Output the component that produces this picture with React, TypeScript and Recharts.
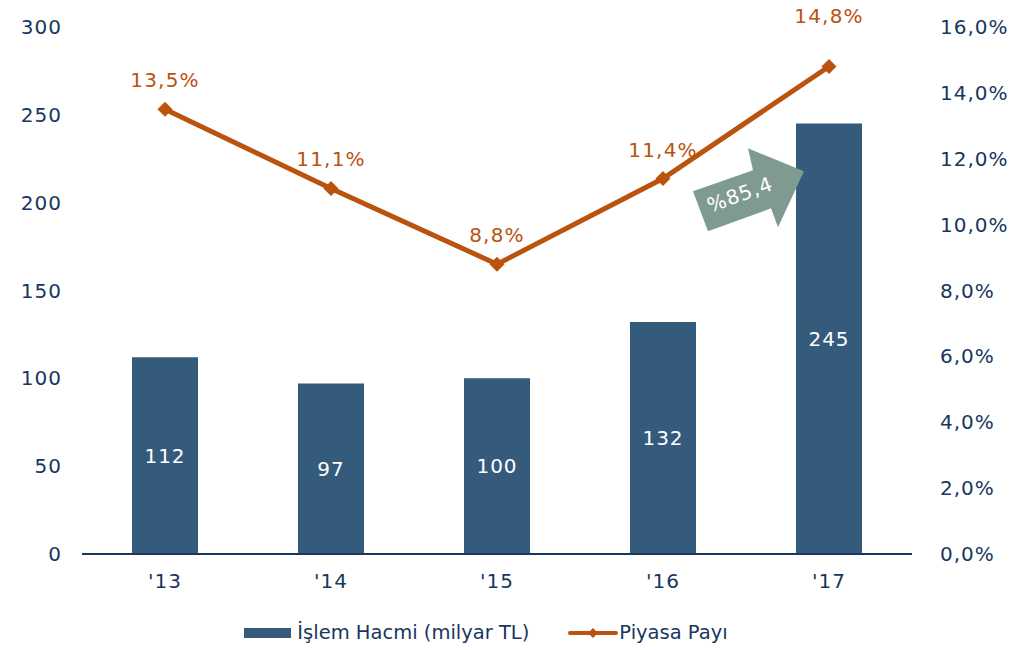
import React from "react";
import {
  Bar,
  ComposedChart,
  LabelList,
  Legend,
  Line,
  ReferenceDot,
  XAxis,
  YAxis,
} from "recharts";

const years = ["'13", "'14", "'15", "'16", "'17"];
const volume = [112, 97, 100, 132, 245];
const share = [13.5, 11.1, 8.8, 11.4, 14.8];
const leftTicks = [0, 50, 100, 150, 200, 250, 300];
const rightTicks = [0, 2, 4, 6, 8, 10, 12, 14, 16];
const growthLabel = "%85,4";

const FONT = "Verdana, 'DejaVu Sans', sans-serif";
const NAVY = "#17375e";
const BAR = "#345b7b";
const ORANGE = "#b9530e";
const ARROW = "#7f9a90";

const data = years.map((y, i) => ({ year: y, volume: volume[i], share: share[i] }));

const fmtPct = (v: number) => v.toFixed(1).replace(".", ",") + "%";

const GrowthArrow = (props: any) => {
  const cx = props.cx - 81;
  const cy = props.cy;
  const pts = [
    [-40, 41],
    [-55, 1],
    [5, -20],
    [0, -42],
    [56, -19],
    [30, 37],
    [23, 18],
  ]
    .map(([x, y]) => `${cx + x},${cy + y}`)
    .join(" ");
  return (
    <g>
      <polygon points={pts} fill={ARROW} />
      <text
        x={cx - 8}
        y={cy + 11}
        transform={`rotate(-20 ${cx - 8} ${cy + 4})`}
        textAnchor="middle"
        fill="#fff"
        fontSize={20}
        letterSpacing={1}
        fontFamily={FONT}
      >
        {growthLabel}
      </text>
    </g>
  );
};

// last label sits a bit higher, as in the source
const ShareLabel = (props: any) => {
  const { x, y, value, index } = props;
  const lift = index === share.length - 1 ? 44 : 22;
  return (
    <text
      x={x}
      y={y - lift}
      textAnchor="middle"
      fill={ORANGE}
      fontSize={20}
      letterSpacing={1.2}
      fontFamily={FONT}
    >
      {fmtPct(Number(value))}
    </text>
  );
};

const renderLegend = () => (
  <div
    style={{
      display: "flex",
      justifyContent: "center",
      alignItems: "center",
      fontFamily: FONT,
      fontSize: 19.5,
      color: NAVY,
      paddingTop: 17,
      paddingRight: 48,
    }}
  >
    <span style={{ display: "inline-block", width: 47, height: 10, background: BAR, marginRight: 6 }} />
    <span>İşlem Hacmi (milyar TL)</span>
    <svg width={50} height={12} style={{ marginLeft: 39, marginRight: 1 }}>
      <line x1={2} y1={6} x2={48} y2={6} stroke={ORANGE} strokeWidth={4} strokeLinecap="round" />
      <polygon points="25,1 30,6 25,11 20,6" fill={ORANGE} />
    </svg>
    <span>Piyasa Payı</span>
  </div>
);

export default function App() {
  const tick = { fill: NAVY, fontSize: 20, fontFamily: FONT, letterSpacing: 1 };
  return (
    <div style={{ position: "absolute", left: 0, top: 0, width: 1020, height: 650, background: "#fff" }}>
      <ComposedChart
        width={1020}
        height={650}
        data={data}
        margin={{ top: 27, right: 0, left: 0, bottom: 0 }}
      >
        <XAxis
          dataKey="year"
          tick={tick}
          tickLine={false}
          axisLine={{ stroke: NAVY, strokeWidth: 2 }}
          height={50}
          tickMargin={14}
        />
        <YAxis
          yAxisId="left"
          domain={[0, 300]}
          ticks={leftTicks}
          tick={tick}
          tickLine={false}
          axisLine={false}
          width={82}
          tickMargin={14}
        />
        <YAxis
          yAxisId="right"
          orientation="right"
          domain={[0, 16]}
          ticks={rightTicks}
          tickFormatter={fmtPct}
          tick={{ ...tick, textAnchor: "start" }}
          tickLine={false}
          axisLine={false}
          width={108}
          tickMargin={22}
        />
        <Legend verticalAlign="bottom" height={46} content={renderLegend} />
        <Bar yAxisId="left" dataKey="volume" fill={BAR} barSize={66} isAnimationActive={false}>
          <LabelList
            dataKey="volume"
            position="center"
            fill="#fff"
            fontSize={20}
            letterSpacing={1}
            fontFamily={FONT}
          />
        </Bar>
        <Line
          yAxisId="right"
          dataKey="share"
          stroke={ORANGE}
          strokeWidth={5}
          dot={(p: any) => (
            <polygon
              key={p.index}
              points={`${p.cx},${p.cy - 7.5} ${p.cx + 7.5},${p.cy} ${p.cx},${p.cy + 7.5} ${p.cx - 7.5},${p.cy}`}
              fill={ORANGE}
            />
          )}
          isAnimationActive={false}
        >
          <LabelList dataKey="share" content={ShareLabel} />
        </Line>
        <ReferenceDot yAxisId="left" x="'17" y={207} r={0} shape={GrowthArrow} />
      </ComposedChart>
    </div>
  );
}
